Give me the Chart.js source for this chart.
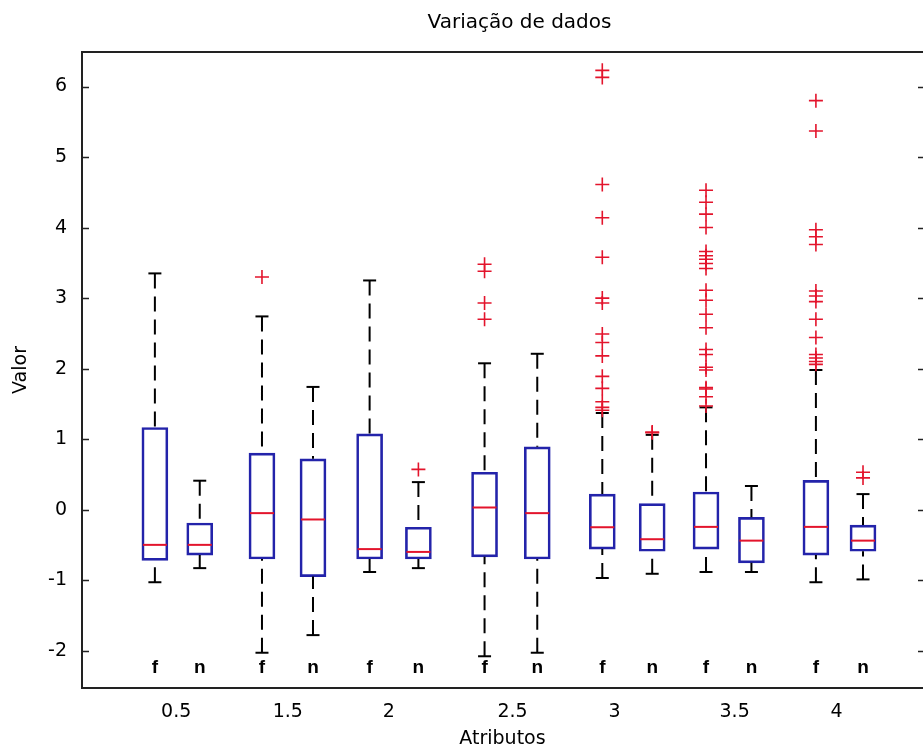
<!DOCTYPE html>
<html>
<head>
<meta charset="utf-8">
<script src="https://cdn.jsdelivr.net/npm/chart.js@4.4.0/dist/chart.umd.min.js"></script>
<style>
    html, body { margin: 0; padding: 0; background: #fff; overflow: hidden; }
    #wrap { width: 923px; height: 754px; }
</style>
</head>
<body>
<div id="wrap"><canvas id="chart"></canvas></div>
<script>
// --- DATA ---
const chartTitle = 'Variação de dados';
const attrLabels = ['0.5', '1.5', '2', '2.5', '3', '3.5', '4'];
const attrPos = [1.68, 3.67, 5.47, 7.68, 9.50, 11.64, 13.46];
const groupLabels = ['f', 'n', 'f', 'n', 'f', 'n', 'f', 'n', 'f', 'n', 'f', 'n', 'f', 'n'];
const boxPos = [1.30, 2.10, 3.21, 4.12, 5.13, 6.00, 7.18, 8.12, 9.28, 10.17, 11.13, 11.94, 13.09, 13.93];
const whiskerLow = [-1.03, -0.83, -2.03, -1.78, -0.885, -0.83, -2.08, -2.03, -0.97, -0.91, -0.885, -0.885, -1.03, -0.99];
const q1 = [-0.72, -0.645, -0.70, -0.95, -0.70, -0.70, -0.67, -0.70, -0.56, -0.59, -0.56, -0.755, -0.645, -0.59];
const medians = [-0.50, -0.50, -0.05, -0.14, -0.56, -0.60, 0.03, -0.05, -0.25, -0.42, -0.245, -0.44, -0.245, -0.44];
const q3 = [1.165, -0.19, 0.80, 0.72, 1.075, -0.25, 0.53, 0.89, 0.22, 0.085, 0.25, -0.11, 0.415, -0.22];
const whiskerHigh = [3.35, 0.41, 2.74, 1.74, 3.25, 0.39, 2.075, 2.21, 1.37, 1.06, 1.45, 0.335, 1.98, 0.22];
const outliers = [
    [],
    [],
    [3.30],
    [],
    [],
    [0.57],
    [3.48, 3.38, 2.93, 2.70],
    [],
    [6.23, 6.13, 4.61, 4.14, 3.58, 3.00, 2.93, 2.49, 2.37, 2.18, 1.89, 1.72, 1.53, 1.45, 1.41],
    [1.10, 1.09],
    [4.53, 4.36, 4.19, 4.00, 3.66, 3.60, 3.55, 3.49, 3.42, 3.11, 2.97, 2.77, 2.58, 2.27, 2.20, 2.02, 1.98, 1.73, 1.71, 1.60, 1.47],
    [],
    [5.80, 5.37, 3.97, 3.87, 3.76, 3.10, 3.03, 2.95, 2.70, 2.44, 2.20, 2.15, 2.10, 2.06],
    [0.53, 0.45]
];
const yTickValues = [-2, -1, 0, 1, 2, 3, 4, 5, 6];
const groupLabelY = -2.25;

// --- STYLE ---
const BLUE = '#2323aa';
const RED = '#e3142c';
const AXIS = '#222';
const FONT = '"DejaVu Sans", sans-serif';

window.addEventListener('load', () => {

    const whiskerPoints = [];
    const capPoints = [];
    boxPos.forEach((p, i) => {
        whiskerPoints.push({ x: p, y: whiskerHigh[i] }, { x: p, y: q3[i] }, { x: p, y: null });
        whiskerPoints.push({ x: p, y: whiskerLow[i] }, { x: p, y: q1[i] }, { x: p, y: null });
        capPoints.push({ x: p, y: whiskerHigh[i] }, { x: p, y: whiskerLow[i] });
    });
    const outlierPoints = [];
    outliers.forEach((list, i) => list.forEach(v => outlierPoints.push({ x: boxPos[i], y: v })));

    // inward ticks, top border, f/n labels and the title
    const matlabFrame = {
        id: 'matlabFrame',
        afterDatasetsDraw(chart) {
            const { ctx, chartArea: a, scales: { x, y } } = chart;
            ctx.save();
            ctx.strokeStyle = AXIS;
            ctx.lineWidth = 2;
            ctx.beginPath();
            ctx.moveTo(a.left - 1, a.top);
            ctx.lineTo(a.right + 2, a.top);
            ctx.stroke();
            ctx.lineWidth = 1.5;
            yTickValues.forEach(v => {
                const py = Math.round(y.getPixelForValue(v)) + 0.5;
                ctx.beginPath();
                ctx.moveTo(a.left, py);
                ctx.lineTo(a.left + 7, py);
                ctx.moveTo(a.right - 5, py);
                ctx.lineTo(a.right, py);
                ctx.stroke();
            });
            ctx.fillStyle = '#000';
            ctx.font = 'bold 19px "Liberation Sans", Arial, sans-serif';
            ctx.textAlign = 'center';
            ctx.textBaseline = 'middle';
            groupLabels.forEach((t, i) => {
                ctx.fillText(t, x.getPixelForValue(boxPos[i]), y.getPixelForValue(groupLabelY));
            });
            ctx.font = '20px ' + FONT;
            ctx.fillText(chartTitle, (a.left + a.right) / 2 + 17, 23);
            ctx.restore();
        }
    };

    new Chart(document.getElementById('chart'), {
        type: 'bar',
        data: {
            datasets: [
                {
                    type: 'scatter',
                    label: 'medians',
                    data: boxPos.map((p, i) => ({ x: p, y: medians[i] })),
                    pointStyle: 'line',
                    radius: 12,
                    borderColor: RED,
                    borderWidth: 2
                },
                {
                    type: 'scatter',
                    label: 'outliers',
                    data: outlierPoints,
                    pointStyle: 'cross',
                    radius: 7,
                    borderColor: RED,
                    borderWidth: 1.6
                },
                {
                    type: 'scatter',
                    label: 'caps',
                    data: capPoints,
                    pointStyle: 'line',
                    radius: 6.5,
                    borderColor: '#000',
                    borderWidth: 2
                },
                {
                    type: 'line',
                    label: 'whiskers',
                    data: whiskerPoints,
                    borderColor: '#000',
                    borderWidth: 2,
                    borderDash: [15, 8],
                    pointRadius: 0,
                    spanGaps: false,
                    fill: false
                },
                {
                    type: 'bar',
                    label: 'boxes',
                    data: boxPos.map((p, i) => ({ x: p, y: [q1[i], q3[i]] })),
                    backgroundColor: 'rgba(0,0,0,0)',
                    borderColor: BLUE,
                    borderWidth: 2,
                    borderSkipped: false,
                    barThickness: 26,
                    grouped: false
                }
            ]
        },
        options: {
            responsive: true,
            maintainAspectRatio: false,
            animation: false,
            layout: { autoPadding: false, padding: { top: 52, left: 0, right: 0, bottom: 0 } },
            plugins: {
                legend: { display: false },
                title: { display: false },
                tooltip: { enabled: false }
            },
            scales: {
                x: {
                    type: 'linear',
                    min: 0,
                    max: 15,
                    offset: false,
                    afterBuildTicks: s => { s.ticks = attrPos.map(v => ({ value: v })); },
                    afterFit: s => { s.height = 66; },
                    grid: { display: false, drawTicks: false },
                    border: { display: true, color: AXIS, width: 2 },
                    ticks: {
                        autoSkip: false,
                        maxRotation: 0,
                        padding: 13,
                        color: '#000',
                        font: { family: FONT, size: 19 },
                        callback: (v, i) => attrLabels[i]
                    },
                    title: {
                        display: true,
                        text: 'Atributos',
                        color: '#000',
                        font: { family: FONT, size: 19 },
                        padding: { top: 0, bottom: 4 }
                    }
                },
                y: {
                    type: 'linear',
                    min: -2.53,
                    max: 6.49,
                    afterBuildTicks: s => { s.ticks = yTickValues.map(v => ({ value: v })); },
                    afterFit: s => { s.width = 82; },
                    grid: { display: false, drawTicks: false },
                    border: { display: true, color: AXIS, width: 2 },
                    ticks: {
                        padding: 15,
                        color: '#000',
                        font: { family: FONT, size: 19 }
                    },
                    title: {
                        display: true,
                        text: 'Valor',
                        color: '#000',
                        font: { family: FONT, size: 19 },
                        padding: { top: 10, bottom: 0 }
                    }
                }
            }
        },
        plugins: [matlabFrame]
    });
});
</script>
</body>
</html>
